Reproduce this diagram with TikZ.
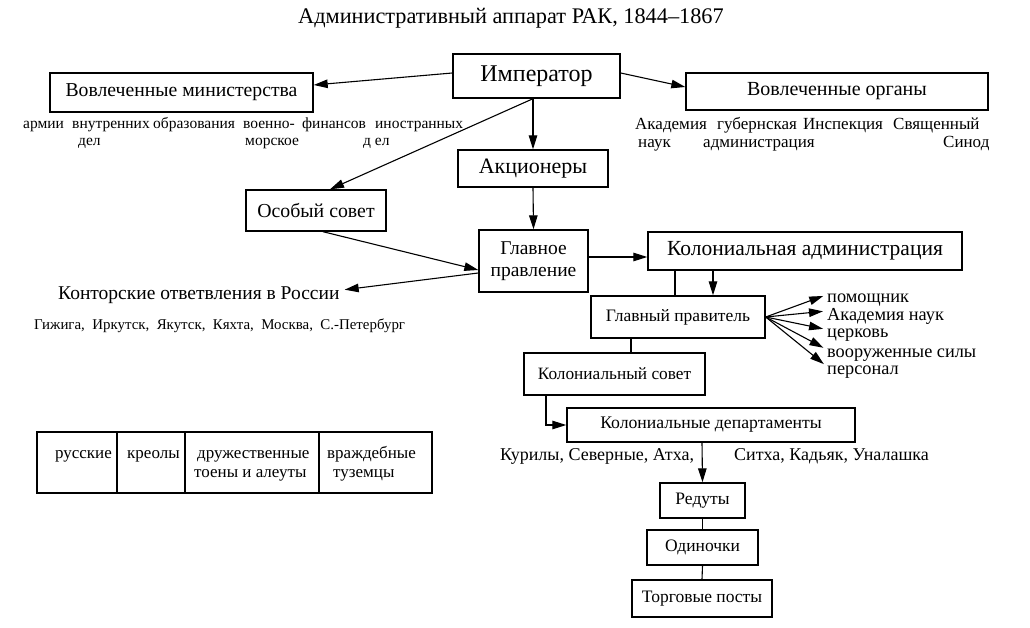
\documentclass[tikz,border=0pt]{standalone}
\usepackage{fontspec}
\setmainfont{Liberation Serif}
\usetikzlibrary{arrows.meta,calc}
\begin{document}
\begin{tikzpicture}[x=1pt,y=-1pt,
  box/.style={draw, line width=1.4pt, inner sep=0pt, align=center},
  arr/.style={line width=1.1pt, -{Triangle[length=14pt,width=8.5pt]}},
  ln/.style={line width=1.1pt},
  lbl/.style={inner sep=0pt, anchor=base west},
  fs/.style={font=\fontsize{#1}{#1}\selectfont},
  cell/.style={draw, line width=1.4pt, inner sep=0pt, minimum height=61pt},
]
\path[use as bounding box] (0,0) rectangle (1030,628);

\node[fs=22.3] (title) at (511,18) {Административный аппарат РАК, 1844–1867};

% boxes
\node[box, fs=24, minimum width=167pt, minimum height=44pt] (imp) at (536.5,76) {Император};
\node[box, fs=19.7, minimum width=263pt, minimum height=39pt] (min) at (181.5,92.5) {Вовлеченные министерства};
\node[box, fs=20, minimum width=302pt, minimum height=37pt] (org) at (837,91.5) {Вовлеченные органы};
\node[box, fs=22, minimum width=150pt, minimum height=37pt] (akc) at (533,168.5) {Акционеры};
\node[box, fs=19.8, minimum width=140pt, minimum height=41pt] (osob) at (316,210.5) {Особый совет};
\node[box, font=\fontsize{19.5}{22}\selectfont, minimum width=109pt, minimum height=62pt] (glav) at (533.5,261) {Главное\\правление};
\node[box, fs=21.5, minimum width=314pt, minimum height=38pt] (koladm) at (805,251) {Колониальная администрация};
\node[box, fs=17.5, minimum width=174pt, minimum height=42pt] (glpr) at (678,317) {Главный правитель};
\node[box, fs=17.3, minimum width=181pt, minimum height=42pt] (kolsov) at (614.5,374) {Колониальный совет};
\node[box, fs=17.7, minimum width=288pt, minimum height=34pt] (koldep) at (711,425) {Колониальные департаменты};
\node[box, fs=17.5, minimum width=85pt, minimum height=35pt] (red) at (702.5,500.5) {Редуты};
\node[box, fs=17.5, minimum width=111pt, minimum height=35pt] (odin) at (702.5,547.5) {Одиночки};
\node[box, fs=17.5, minimum width=140pt, minimum height=37pt] (torg) at (702,598.5) {Торговые посты};

% ministries labels
\node[lbl, fs=15.5] (m1) at (23,128.5) {армии};
\node[lbl, fs=15.5] (m2) at (72,128.5) {внутренних};
\node[lbl, fs=15.5] (m3) at (153,128.5) {образования};
\node[lbl, fs=15.5] (m4) at (243,128.5) {военно-};
\node[lbl, fs=15.5] (m5) at (302,128.5) {финансов};
\node[lbl, fs=15.5] (m6) at (375,128.5) {иностранных};
\node[lbl, fs=15.5] (m2b) at (78,145.5) {дел};
\node[lbl, fs=15.5] (m4b) at (245,145.5) {морское};
\node[lbl, fs=15.5] (m6b) at (363,145.5) {д ел};

% organs labels
\node[lbl, fs=17] (o1) at (635,130) {Академия};
\node[lbl, fs=17] (o1b) at (638,148) {наук};
\node[lbl, fs=17] (o2) at (717,130) {губернская};
\node[lbl, fs=17] (o2b) at (703,148) {администрация};
\node[lbl, fs=17] (o3) at (803,130) {Инспекция};
\node[lbl, fs=17] (o4) at (893,130) {Священный};
\node[lbl, fs=17] (o4b) at (943,148) {Синод};

% offices
\node[lbl, fs=19.5] (kontor) at (58,299) {Конторские ответвления в России};
\node[lbl, fs=14.9] (cities) at (34,329.5) {Гижига,\ \ Иркутск,\ \ Якутск,\ \ Кяхта,\ \ Москва,\ \ С.-Петербург};

% right labels
\node[lbl, fs=18.3] (r1) at (827,302) {помощник};
\node[lbl, fs=18.3] (r2) at (827,320) {Академия наук};
\node[lbl, fs=18.3] (r3) at (827,337) {церковь};
\node[lbl, fs=18.3] (r4) at (827,357) {вооруженные силы};
\node[lbl, fs=18.3] (r5) at (827,374) {персонал};

% departments labels
\node[lbl, fs=18] (d1) at (500,460) {Курилы, Северные, Атха,};
\node[lbl, fs=18] (d2) at (734,460) {Ситха, Кадьяк, Уналашка};

% table
\node[cell, minimum width=80pt] (c1) at (77,462.5) {};
\node[cell, minimum width=68pt] (c2) at (151,462.5) {};
\node[cell, minimum width=134pt] (c3) at (252,462.5) {};
\node[cell, minimum width=113pt] (c4) at (375.5,462.5) {};
\node[inner sep=0pt, anchor=base east, fs=17] (t1) at (112,458) {русские};
\node[lbl, fs=17] (t2) at (127,458) {креолы};
\node[lbl, fs=17] (t3) at (197,458) {дружественные};
\node[lbl, fs=17] (t3b) at (194,477) {тоены и алеуты};
\node[lbl, fs=17] (t4) at (327,458) {враждебные};
\node[lbl, fs=17] (t4b) at (333,477) {туземцы};

% connectors
\draw[arr] ([yshift=3pt]imp.west) -- ([yshift=7.5pt]min.east);
\draw[arr] ([yshift=3pt]imp.east) -- ([yshift=4.5pt]org.west);
\draw[arr] ([xshift=-3.5pt]imp.south) -- ([xshift=14pt]osob.north);
\draw[arr] ([xshift=-3.5pt]imp.south) -- (akc.north);
\draw[arr] (akc.south) -- (glav.north);
\draw[arr] ([xshift=7pt]osob.south) -- ([yshift=-9pt]glav.west);
\draw[arr] ([yshift=-12pt]glav.west) -- ([xshift=5pt,yshift=5pt]kontor.east);
\draw[arr] ([yshift=4pt]glav.east) -- ([yshift=4pt]glav.east -| koladm.west);
\draw[ln] ([xshift=-130pt]koladm.south) -- ([xshift=-3pt]glpr.north);
\draw[arr] ([xshift=-92pt]koladm.south) -- ([xshift=35pt]glpr.north);
\foreach \n in {r1,r2,r3,r4,r5}
  \draw[arr, shorten >=4pt] (glpr.east) -- ([yshift=5pt]\n.west);
\draw[ln] ([xshift=-47pt]glpr.south) -- ([xshift=16.5pt]kolsov.north);
\draw[arr] ([xshift=-68.5pt]kolsov.south) |- (koldep.west);
\draw[arr] ([xshift=-9pt]koldep.south) -- (red.north);
\draw[ln] (red.south) -- (odin.north);
\draw[ln] (odin.south) -- (torg.north);
\end{tikzpicture}
\end{document}
